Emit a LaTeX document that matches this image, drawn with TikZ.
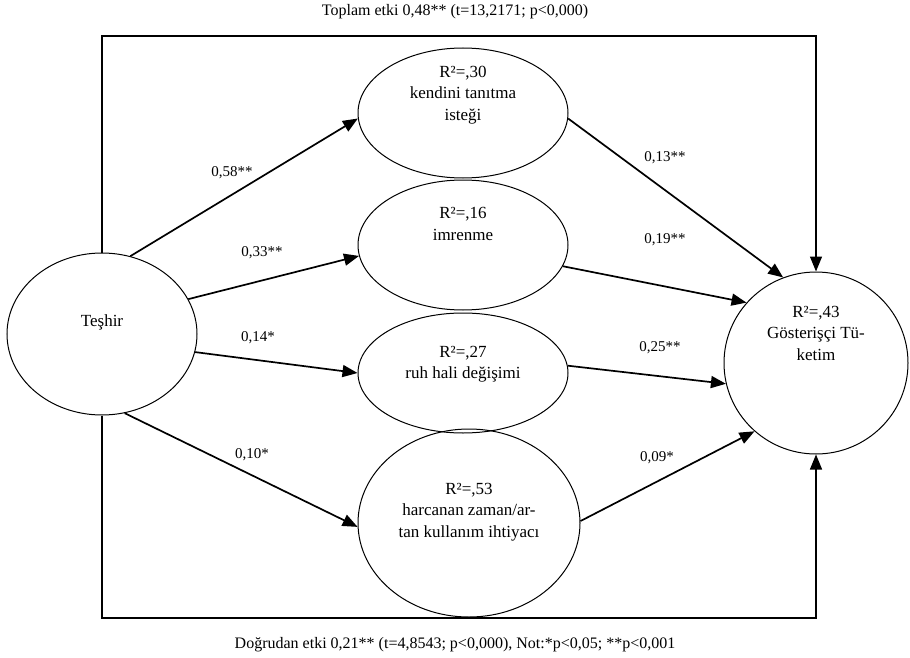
\documentclass[tikz,border=0pt]{standalone}
\usepackage{fontspec}
\setmainfont{Liberation Serif}
\usetikzlibrary{arrows.meta,shapes.geometric}
\begin{document}
\begin{tikzpicture}[x=1pt,y=-1pt,
        latent/.style={draw, ellipse, line width=1pt, inner sep=0pt},
        yazi/.style={align=center, font=\fontsize{17}{21.5}\selectfont},
        katsayi/.style={font=\fontsize{15}{18}\selectfont},
        yol/.style={line width=1.7pt, -{Triangle[length=15pt,width=12pt]}},
        cerceve/.style={line width=1.3pt, -{Triangle[length=15pt,width=12pt]}}]
        \useasboundingbox (0,0) rectangle (910,658);

        \node[latent, minimum width=190, minimum height=162] (1) at (102,334) {};
        \node[latent, minimum width=210, minimum height=130] (2) at (463,113) {};
        \node[latent, minimum width=210, minimum height=130] (3) at (463,245) {};
        \node[latent, minimum width=210, minimum height=120] (4) at (463,373) {};
        \node[latent, minimum width=222, minimum height=188] (5) at (469,523) {};
        \node[latent, minimum width=184, minimum height=182] (6) at (816,363) {};

        \node[yazi] (t1) at ([yshift=12]1.center) {Teşhir};
        \node[yazi] (t2) at ([yshift=18]2.center) {R²=,30\\kendini tanıtma\\isteği};
        \node[yazi] (t3) at ([yshift=21]3.center) {R²=,16\\imrenme};
        \node[yazi] (t4) at ([yshift=9]4.center) {R²=,27\\ruh hali değişimi};
        \node[yazi] (t5) at ([yshift=11]5.center) {R²=,53\\harcanan zaman/ar-\\tan kullanım ihtiyacı};
        \node[yazi] (t6) at ([yshift=30]6.center) {R²=,43\\Gösterişçi Tü-\\ketim};

        \path[draw,yol] (1.70) -- (2.183);
        \path[draw,yol] (1.22) -- (3.186);
        \path[draw,yol] (1.-11) -- (4.west);
        \path[draw,yol] (1.-74) -- (5.182);
        \path[draw,yol] (2.-3) -- (6.111);
        \path[draw,yol] (3.-12) -- (6.139);
        \path[draw,yol] (4.4) -- (6.193);
        \path[draw,yol] (5.1) -- (6.228);

        \node[katsayi] (k12) at (232,173) {0,58**};
        \node[katsayi] (k13) at (262,253) {0,33**};
        \node[katsayi] (k14) at (258,338) {0,14*};
        \node[katsayi] (k15) at (252,455) {0,10*};
        \node[katsayi] (k26) at (665,158) {0,13**};
        \node[katsayi] (k36) at (665,240) {0,19**};
        \node[katsayi] (k46) at (660,348) {0,25**};
        \node[katsayi] (k56) at (657,458) {0,09*};

        % toplam ve dogrudan etki
        \coordinate (ust) at (0,36);
        \coordinate (alt) at (0,618);
        \path[draw,cerceve] (1.north) -- (1.north |- ust) -- (6.north |- ust) -- (6.north);
        \path[draw,cerceve] (1.south) -- (1.south |- alt) -- (6.south |- alt) -- (6.south);

        \node[font=\fontsize{16}{19}\selectfont] (toplam) at (455,12) {Toplam etki 0,48** (t=13,2171; p<0,000)};
        \node[font=\fontsize{16}{19}\selectfont] (dogrudan) at (455,645) {Doğrudan etki 0,21** (t=4,8543; p<0,000), Not:*p<0,05; **p<0,001};
    \end{tikzpicture}
\end{document}
